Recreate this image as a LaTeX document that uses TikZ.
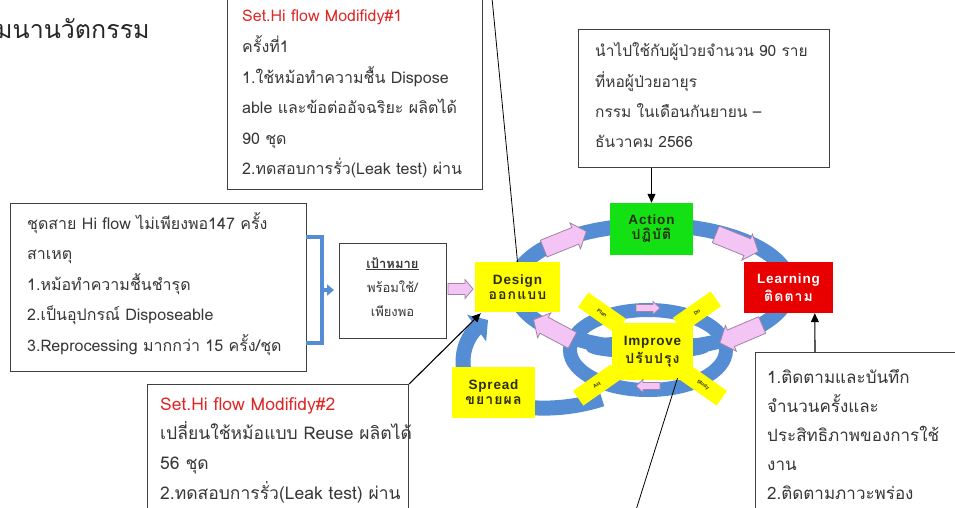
\documentclass[tikz,border=0pt]{standalone}
\usepackage{fontspec}
\setmainfont[Script=Thai]{Loma}
\newfontfamily\lat{Liberation Sans}
\newfontfamily\latw[LetterSpace=6]{Liberation Sans}
\newfontfamily\thw[Script=Thai,LetterSpace=8]{Loma}
\usetikzlibrary{arrows.meta,calc}
\definecolor{ringblue}{RGB}{84,141,212}
\definecolor{pinkfill}{RGB}{244,196,244}
\definecolor{pinkedge}{RGB}{160,130,165}
\definecolor{setred}{RGB}{222,40,40}
\definecolor{txtgray}{RGB}{55,55,55}
\definecolor{ybox}{RGB}{255,255,0}
\definecolor{gbox}{RGB}{20,225,20}
\definecolor{rbox}{RGB}{232,0,0}
\definecolor{lbldark}{RGB}{45,45,20}
\newcommand{\tlines}[1]{\begin{tabular}[t]{@{}l@{}}#1\end{tabular}}
\newcommand{\clines}[1]{\begin{tabular}[t]{@{}c@{}}#1\end{tabular}}
\newcommand{\lbl}[2]{{\latw\bfseries\fontsize{13.5}{15}\selectfont #1}\\[3pt]{\thw\bfseries\fontsize{14}{15}\selectfont #2}}
% pink block arrow: x, y, angle, length, shaft half width, head half width, head length
\newcommand{\parr}[7]{%
  \draw[pinkshape, shift={(#1,#2)}, rotate=#3]
    ({-#4/2},{-#5}) -- ({#4/2-#7},{-#5}) -- ({#4/2-#7},{-#6}) -- ({#4/2},0)
    -- ({#4/2-#7},{#6}) -- ({#4/2-#7},{#5}) -- ({-#4/2},{#5}) -- cycle;}
\tikzset{
  nbox/.style={draw=black!75, line width=1.1pt, fill=white, anchor=north west, inner sep=0pt},
  txt/.style={anchor=base west, inner sep=0pt, text=txtgray},
  cbox/.style={minimum width=85, minimum height=50, inner sep=0pt, align=center, text=lbldark},
  arr/.style={line width=1.1pt, -{Triangle[length=9pt,width=8pt]}},
  thin/.style={line width=0.8pt},
  ring/.style={draw=ringblue},
  brk/.style={draw=ringblue, line width=3.5pt},
  pinkshape/.style={draw=pinkedge, fill=pinkfill, line width=0.8pt, line join=miter},
  arm/.style={fill=ybox, minimum width=46, minimum height=18, inner sep=0pt, font=\lat\bfseries\fontsize{5}{5}\selectfont, text=lbldark}
}
\begin{document}
\begin{tikzpicture}[x=1pt,y=-1pt]
\useasboundingbox (0,0) rectangle (955,508);
% title
\node[anchor=west, inner sep=0pt, font=\fontsize{25}{27}\selectfont, text=black!85] (title) at (-4,29) {มนานวัตกรรม};

% rings
\draw[ring, line width=15pt] (652,287) ellipse [x radius=138, y radius=62];
\draw[ring, line width=14pt] (648,350) ellipse [x radius=78, y radius=40];
\draw[ring, line width=9pt] (648,347) ellipse [x radius=58, y radius=7];
\draw[ring, line width=15pt, -{Triangle[length=14pt,width=32pt]}]
  (602,399) .. controls (545,418) and (463,408) .. (463,362) .. controls (463,342) and (474,330) .. (488,320);

% X arms and Improve
\node[arm, rotate=-35] (plan) at (602,313) {Plan};
\node[arm, rotate=35] (do) at (697,312) {Do};
\node[arm, rotate=-35] (study) at (703,385) {Study};
\node[arm, rotate=35] (act) at (597,385) {Act};
\node[cbox, fill=ybox, minimum width=81, minimum height=57] (improve) at (652.5,351.5) {\lbl{Improve}{ปรับปรุง}};

% colored boxes
\node[cbox, fill=ybox] (design) at (517.5,287) {\lbl{Design}{ออกแบบ}};
\node[cbox, fill=gbox, minimum width=83, minimum height=52] (action) at (651.5,229) {\lbl{Action}{ปฏิบัติ}};
\node[cbox, fill=rbox, minimum width=89, minimum height=51, text=white] (learning) at (788.5,287.5) {\lbl{Learning}{ติดตาม}};
\node[cbox, fill=ybox, minimum width=83, minimum height=51] (spread) at (493.5,392.5) {\lbl{Spread}{ขยายผล}};

% pink arrows on the rings
\parr{565}{240}{22}{46}{9}{14}{12}
\parr{737}{243}{-22}{46}{9}{14}{12}
\parr{741}{334}{203}{46}{9}{14}{12}
\parr{553}{330}{152}{44}{9}{14}{12}
\parr{648}{308}{0}{24}{3.5}{6.5}{7}
\parr{648}{386}{180}{24}{3.5}{6.5}{7}

% text boxes
\node[nbox, minimum width=255, minimum height=195] (s1) at (227,-6) {};
\node[txt, font=\fontsize{16}{30.6}\selectfont] (s1t) at (242,22) {\tlines{{\color{setred}Set.Hi flow Modifidy\#1}\\ครั้งที่1\\1.ใช้หม้อทำความชื้น Dispose\\able และข้อต่ออัจฉริยะ ผลิตได้\\90 ชุด\\2.ทดสอบการรั่ว(Leak test) ผ่าน}};

\node[nbox, minimum width=251, minimum height=138] (tr) at (578,29) {};
\node[txt, font=\fontsize{15.5}{30.3}\selectfont] (trt) at (595,57) {\tlines{นำไปใช้กับผู้ป่วยจำนวน 90 ราย\\ที่หอผู้ป่วยอายุร\\กรรม ในเดือนกันยายน –\\ธันวาคม 2566}};

\node[nbox, minimum width=296, minimum height=168] (lb) at (10,203) {};
\node[txt, font=\fontsize{16}{30.5}\selectfont] (lbt) at (27,229) {\tlines{ชุดสาย Hi flow ไม่เพียงพอ147 ครั้ง\\สาเหตุ\\1.หม้อทำความชื้นชำรุด\\2.เป็นอุปกรณ์ Disposeable\\3.Reprocessing มากกว่า 15 ครั้ง/ชุด}};

\node[nbox, minimum width=107, minimum height=95] (goal) at (339,243) {};
\node[anchor=base, inner sep=0pt, text=txtgray, font=\fontsize{13}{24}\selectfont] (goalt) at (392.5,268) {\clines{\underline{\bfseries เป้าหมาย}\\พร้อมใช้/\\เพียงพอ}};

\node[nbox, minimum width=261, minimum height=135] (s2) at (147,384) {};
\node[txt, font=\fontsize{17.5}{29.7}\selectfont] (s2t) at (160,410) {\tlines{{\color{setred}Set.Hi flow Modifidy\#2}\\เปลี่ยนใช้หม้อแบบ Reuse ผลิตได้\\56 ชุด\\2.ทดสอบการรั่ว(Leak test) ผ่าน}};

\node[nbox, minimum width=215, minimum height=170] (br) at (755,352) {};
\node[txt, font=\fontsize{17}{29}\selectfont] (brt) at (767,383) {\tlines{1.ติดตามและบันทึก\\จำนวนครั้งและ\\ประสิทธิภาพของการใช้\\งาน\\2.ติดตามภาวะพร่อง}};

% goal pink arrow
\coordinate (pamid) at ($(goal.east)!0.5!(design.west)$);
\parr{460.5}{289}{0}{25}{5.5}{9.5}{8}

% bracket
\coordinate (bt) at (306,237);
\coordinate (bb) at (306,343);
\coordinate (bm) at (322,290);
\draw[brk] (bt) -- (322,237) -- (322,343) -- (bb);
\draw[brk, -{Triangle[length=7pt,width=11pt]}, shorten >=5pt] (bm) -- (goal.west |- bm);

% connectors
\coordinate (s1top) at (492,-2);
\draw[thin] (s1top) -- (design.north);
\draw[arr] (tr.south -| action.north) -- (action.north);
\draw[arr] ($(br.north west)+(60,0)$) -- ($(learning.south west)+(71,0)$);
\draw[arr] (s2.north east) -- ($(design.south west)+(6,1)$);
\coordinate (imbot) at (636,510);
\draw[thin] (imbot) -- ($(improve.south)+(25,-2)$);
\end{tikzpicture}
\end{document}
